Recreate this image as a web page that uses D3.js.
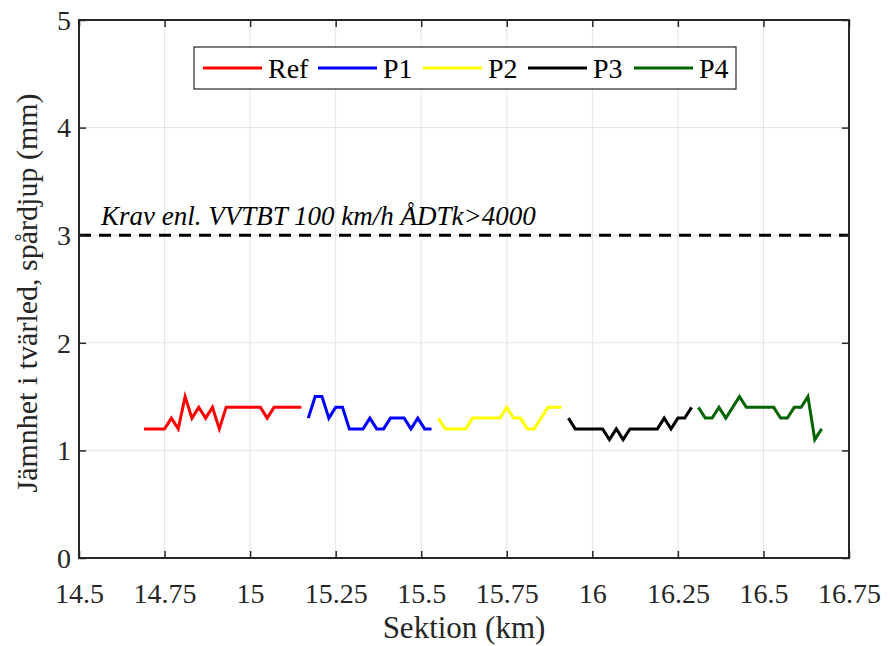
<!DOCTYPE html>
<html>
<head>
<meta charset="utf-8">
<script src="https://cdn.jsdelivr.net/npm/d3@7/dist/d3.min.js"></script>
<style>
  html, body { margin: 0; padding: 0; background: #fff; }
  svg text { font-family: "Liberation Serif", "Tinos", "DejaVu Serif", serif !important; }
</style>
</head>
<body>
<svg id="chart" width="892" height="646"></svg>
<script>
// Sections are measured every 20 m along the road (km)
const refKm = [14.69,14.71,14.73,14.75,14.77,14.79,14.81,14.83,14.85,14.87,14.89,14.91,14.93,14.95,14.97,14.99,15.01,15.03,15.05,15.07,15.09,15.11,15.13,15.15];
const refVal = [1.2,1.2,1.2,1.2,1.3,1.2,1.5,1.3,1.4,1.3,1.4,1.2,1.4,1.4,1.4,1.4,1.4,1.4,1.3,1.4,1.4,1.4,1.4,1.4];

const p1Km = [15.17,15.19,15.21,15.23,15.25,15.27,15.29,15.31,15.33,15.35,15.37,15.39,15.41,15.43,15.45,15.47,15.49,15.51,15.53];
const p1Val = [1.3,1.5,1.5,1.3,1.4,1.4,1.2,1.2,1.2,1.3,1.2,1.2,1.3,1.3,1.3,1.2,1.3,1.2,1.2];

const p2Km = [15.55,15.57,15.59,15.61,15.63,15.65,15.67,15.69,15.71,15.73,15.75,15.77,15.79,15.81,15.83,15.85,15.87,15.89,15.91];
const p2Val = [1.3,1.2,1.2,1.2,1.2,1.3,1.3,1.3,1.3,1.3,1.4,1.3,1.3,1.2,1.2,1.3,1.4,1.4,1.4];

const p3Km = [15.93,15.95,15.97,15.99,16.01,16.03,16.05,16.07,16.09,16.11,16.13,16.15,16.17,16.19,16.21,16.23,16.25,16.27,16.29];
const p3Val = [1.3,1.2,1.2,1.2,1.2,1.2,1.1,1.2,1.1,1.2,1.2,1.2,1.2,1.2,1.3,1.2,1.3,1.3,1.4];

const p4Km = [16.31,16.33,16.35,16.37,16.39,16.41,16.43,16.45,16.47,16.49,16.51,16.53,16.55,16.57,16.59,16.61,16.63,16.65,16.67];
const p4Val = [1.4,1.3,1.3,1.4,1.3,1.4,1.5,1.4,1.4,1.4,1.4,1.4,1.3,1.3,1.4,1.4,1.5,1.1,1.2];

const seriesNames = ["Ref", "P1", "P2", "P3", "P4"];
const seriesColors = ["#ff0000", "#0000ff", "#ffff00", "#000000", "#006400"];

const xTicks = [14.5, 14.75, 15, 15.25, 15.5, 15.75, 16, 16.25, 16.5, 16.75];
const xTickLabels = ["14.5", "14.75", "15", "15.25", "15.5", "15.75", "16", "16.25", "16.5", "16.75"];
const yTicks = [0, 1, 2, 3, 4, 5];

const requirement = 3;
const requirementLabel = "Krav enl. VVTBT 100 km/h ÅDTk>4000";
const xLabel = "Sektion (km)";
const yLabel = "Jämnhet i tvärled, spårdjup (mm)";

const series = [
  { km: refKm, val: refVal },
  { km: p1Km, val: p1Val },
  { km: p2Km, val: p2Val },
  { km: p3Km, val: p3Val },
  { km: p4Km, val: p4Val }
].map((s, i) => ({
  name: seriesNames[i],
  color: seriesColors[i],
  points: s.km.map((k, j) => ({ x: k, y: s.val[j] }))
}));

const svg = d3.select("#chart");
const plot = { left: 79, right: 849, top: 20, bottom: 558 };

const x = d3.scaleLinear().domain([14.5, 16.75]).range([plot.left, plot.right]);
const y = d3.scaleLinear().domain([0, 5]).range([plot.bottom, plot.top]);

// grid
const grid = svg.append("g");
grid.selectAll("line.gx").data(xTicks.slice(1, -1)).join("line")
  .attr("x1", d => x(d)).attr("x2", d => x(d))
  .attr("y1", plot.top).attr("y2", plot.bottom)
  .attr("stroke", "#e3e3e3").attr("stroke-width", 1);
grid.selectAll("line.gy").data(yTicks.slice(1, -1)).join("line")
  .attr("y1", d => y(d)).attr("y2", d => y(d))
  .attr("x1", plot.left).attr("x2", plot.right)
  .attr("stroke", "#e3e3e3").attr("stroke-width", 1);

// requirement line
svg.append("line")
  .attr("x1", plot.left).attr("x2", plot.right)
  .attr("y1", y(requirement)).attr("y2", y(requirement))
  .attr("stroke", "#000").attr("stroke-width", 3)
  .attr("stroke-dasharray", "12,8");

svg.append("text")
  .attr("x", 101).attr("y", y(requirement) - 10)
  .attr("font-size", 27).attr("font-style", "italic")
  .attr("fill", "#000")
  .text(requirementLabel);

// data lines
const line = d3.line().x(d => x(d.x)).y(d => y(d.y));
svg.append("g").selectAll("path").data(series).join("path")
  .attr("d", d => line(d.points))
  .attr("fill", "none")
  .attr("stroke", d => d.color)
  .attr("stroke-width", 3)
  .attr("stroke-linejoin", "miter");

// axes with inward ticks on all four sides
const tickLen = 7;
const fmtX = (d, i) => xTickLabels[i];
const axB = svg.append("g").attr("transform", `translate(0,${plot.bottom})`)
  .call(d3.axisBottom(x).tickValues(xTicks).tickFormat(fmtX).tickSizeInner(-tickLen).tickSizeOuter(0).tickPadding(45));
const axT = svg.append("g").attr("transform", `translate(0,${plot.top})`)
  .call(d3.axisTop(x).tickValues(xTicks).tickFormat("").tickSizeInner(-tickLen).tickSizeOuter(0));
const axL = svg.append("g").attr("transform", `translate(${plot.left},0)`)
  .call(d3.axisLeft(y).tickValues(yTicks).tickFormat(d3.format("d")).tickSizeInner(-tickLen).tickSizeOuter(0).tickPadding(8));
const axR = svg.append("g").attr("transform", `translate(${plot.right},0)`)
  .call(d3.axisRight(y).tickValues(yTicks).tickFormat("").tickSizeInner(-tickLen).tickSizeOuter(0));

[axB, axT, axL, axR].forEach(a => {
  a.attr("font-family", null);
  a.select(".domain").remove();
  a.selectAll(".tick line").attr("stroke", "#262626").attr("stroke-width", 1.5);
  a.selectAll(".tick text").attr("fill", "#262626").attr("font-size", 28);
});
axB.selectAll(".tick text").attr("dy", "0");
axL.selectAll(".tick text").attr("dy", "0.33em");

// frame
svg.append("rect")
  .attr("x", plot.left).attr("y", plot.top)
  .attr("width", plot.right - plot.left).attr("height", plot.bottom - plot.top)
  .attr("fill", "none").attr("stroke", "#262626").attr("stroke-width", 2);

// axis labels
svg.append("text")
  .attr("x", (plot.left + plot.right) / 2).attr("y", 638)
  .attr("text-anchor", "middle").attr("font-size", 31).attr("fill", "#262626")
  .text(xLabel);
svg.append("text")
  .attr("transform", `translate(37,${(plot.top + plot.bottom) / 2 + 4}) rotate(-90)`)
  .attr("text-anchor", "middle").attr("font-size", 30).attr("fill", "#262626")
  .text(yLabel);

// legend
const legend = svg.append("g");
legend.append("rect")
  .attr("x", 194).attr("y", 47).attr("width", 542).attr("height", 42)
  .attr("fill", "#fff").attr("stroke", "#262626").attr("stroke-width", 1.2);
const legendX = [203, 318, 423, 528, 634];
const items = legend.selectAll("g.item").data(series).join("g")
  .attr("transform", (d, i) => `translate(${legendX[i]},68)`);
items.append("line")
  .attr("x1", 0).attr("x2", 59).attr("y1", 0).attr("y2", 0)
  .attr("stroke", d => d.color).attr("stroke-width", 3);
items.append("text")
  .attr("x", 65).attr("y", 10)
  .attr("font-size", 28).attr("fill", "#000")
  .text(d => d.name);
</script>
</body>
</html>
